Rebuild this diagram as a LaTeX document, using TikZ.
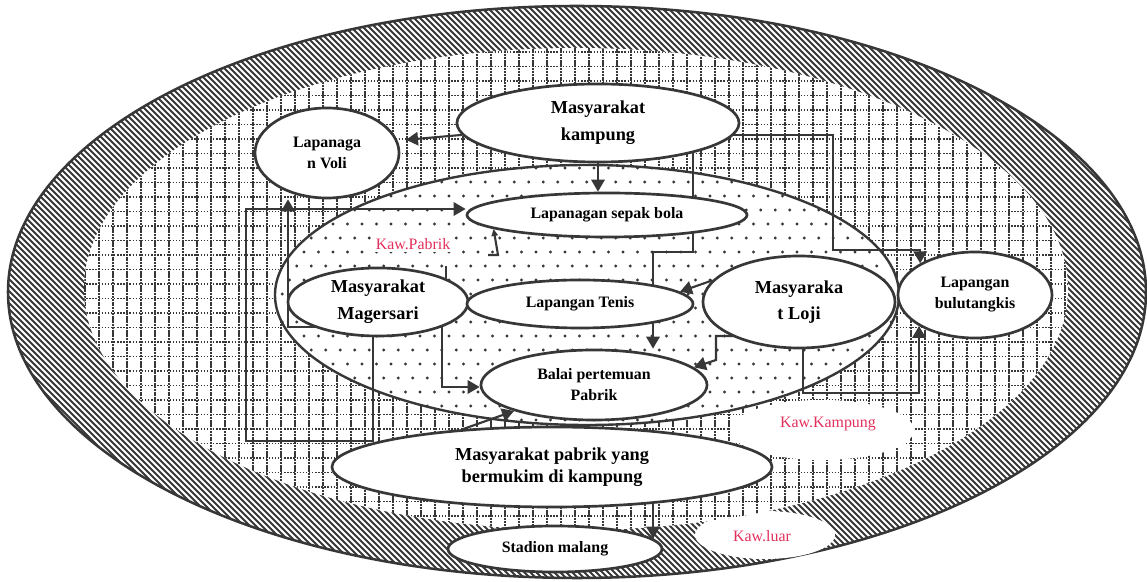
\documentclass[tikz,border=0pt]{standalone}
\usepackage{fontspec}
\setmainfont{Liberation Serif}
\usetikzlibrary{shapes.geometric,arrows.meta,calc}
\pgfdeclarelayer{back}
\pgfdeclarelayer{links}
\pgfsetlayers{back,links,main}
\definecolor{ink}{RGB}{55,55,55}
\definecolor{kawred}{RGB}{226,48,92}

\tikzset{
  place/.style={ellipse, draw=ink, line width=1.9pt, fill=white, inner sep=0pt,
    align=center, font=\bfseries\fontsize{11.3}{15}\selectfont},
  folk/.style={place, font=\bfseries\fontsize{13}{19}\selectfont},
  link/.style={draw=ink, line width=1.5pt},
  arr/.style={link, -{Triangle[length=8.5pt,width=9.5pt]}},
  zone/.style={text=kawred, inner sep=2pt, font=\fontsize{11.3}{13}\selectfont}
}

\begin{document}
\begin{tikzpicture}[x=0.025cm, y=-0.025cm, line join=round]
    \useasboundingbox (0,0) rectangle (1147,582);

    % areas
    \begin{pgfonlayer}{back}
      % Kaw.luar (hatched ring)
      \begin{scope}
        \clip (577,292) ellipse [x radius=569, y radius=286];
        \foreach \h in {-600,-594,...,1150}
          \draw[ink, line width=1.4pt] (\h,0) -- ++(600,600);
      \end{scope}
      \draw[ink, line width=1.8pt] (577,292) ellipse [x radius=569, y radius=286];
      \fill[white] (765,535) ellipse [x radius=70, y radius=24];
      % Kaw.Kampung (grid)
      \fill[white] (576,289) ellipse [x radius=492, y radius=241];
      \begin{scope}
        \clip (576,289) ellipse [x radius=492, y radius=241];
        \foreach \g in {85,99,...,1071}
          \draw[ink, line width=0.9pt, dash pattern=on 1.5pt off 0.5pt] (\g,40) -- (\g,540);
        \foreach \g in {52,66.5,...,540}
          \draw[ink, line width=1.1pt, dash pattern=on 1pt off 1.2pt] (80,\g) -- (1075,\g);
      \end{scope}
      \fill[white] (822,430) ellipse [x radius=92, y radius=30];
      % Kaw.Pabrik (dots)
      \fill[white] (587,295) ellipse [x radius=312, y radius=130];
      \begin{scope}
        \clip (587,295) ellipse [x radius=312, y radius=130];
        \foreach \r in {0,...,18}
          \foreach \c in {0,...,43}
            \fill[ink] ({275+\c*14.5+mod(\r,2)*7.25},{168+\r*14}) circle [radius=1.6];
      \end{scope}
      \draw[ink, line width=1.7pt] (587,295) ellipse [x radius=312, y radius=130];
    \end{pgfonlayer}

    % places
    \node[folk, minimum width=7.05cm, minimum height=1.95cm] (kampung) at (598,123) {Masyarakat\\kampung};
    \node[place, minimum width=3.6cm, minimum height=2.25cm] (voli) at (327,153) {Lapanaga\\n Voli};
    \node[place, minimum width=7cm, minimum height=1.1cm] (sepak) at (607,215) {Lapanagan sepak bola};
    \node[folk, minimum width=4.5cm, minimum height=1.7cm] (mager) at (378,302) {Masyarakat\\Magersari};
    \node[place, minimum width=5.65cm, minimum height=1.2cm] (tenis) at (580,304) {Lapangan Tenis};
    \node[folk, minimum width=4.8cm, minimum height=2.3cm] (loji) at (799,302) {Masyaraka\\t Loji};
    \node[place, minimum width=3.85cm, minimum height=2.15cm] (bulu) at (975,295) {Lapangan\\bulutangkis};
    \node[place, minimum width=5.65cm, minimum height=1.75cm] (balai) at (594,385) {Balai pertemuan\\Pabrik};
    \node[folk, minimum width=11cm, minimum height=2cm, font=\bfseries\fontsize{13}{15.5}\selectfont] (pabrik) at (552,467) {Masyarakat pabrik yang\\bermukim di kampung};
    \node[place, minimum width=5.35cm, minimum height=1.15cm] (stadion) at (555,549) {Stadion malang};

    % labels
    \node[zone, fill=white] (kpabrik) at (413,244) {Kaw.Pabrik};
    \node[zone] (kkampung) at (828,424) {Kaw.Kampung};
    \node[zone] (kluar) at (762,536) {Kaw.luar};

    % connectors
    \begin{pgfonlayer}{links}
      \coordinate (kb) at (693,252);
      \coordinate (kc) at (653,252);
      \coordinate (kd) at (833,135);
      \coordinate (ke) at (833,250);
      \coordinate (lb) at (716,336);
      \coordinate (lk) at (803,393);
      \coordinate (mv) at (288,327);
      \coordinate (ms) at (373,441);
      \coordinate (mt) at (246,209);
      \coordinate (mb) at (442,387);
      \coordinate (hook) at (488,255);
      \coordinate (stub) at (446,266);

      \draw[arr, shorten >=6pt] (kampung.185) -- (voli.10);
      \draw[arr] (kampung.center) -- (kampung.center |- sepak.north);
      \draw[arr] (kampung.center -| kb) -- (kb) -- (kc) -- (kc |- balai.north);
      \draw[arr] (kampung.center |- kd) -- (kd) -- (ke) -| (bulu.150);
      \draw[arr] (loji.166) -- (tenis.7);
      \draw[arr] (loji.center |- lb) -- (lb) -- ++(0,24) -- (balai.10);
      \draw[arr] (loji.center -| lk) -- (lk) -| (bulu.209);
      \draw[arr] (mager.center |- mv) -- (mv) -- (mv |- voli.south);
      \draw[arr] (mager.center -| ms) -- (ms) -| (mt) -- (mt -| sepak.west);
      \draw[arr] (mager.center -| mb) -- (mb) -- (mb -| balai.west);
      \draw[arr] (pabrik.157) -- (balai.198);
      \draw[arr] (pabrik.center -| stadion.6) -- (stadion.6);
      \draw[link, -{Triangle[length=5pt,width=4.5pt]}] (hook) -- ++(10,0) -- (sepak.187);
      \draw[link] (mager.center -| stub) -- (stub);
    \end{pgfonlayer}

\end{tikzpicture}
\end{document}
